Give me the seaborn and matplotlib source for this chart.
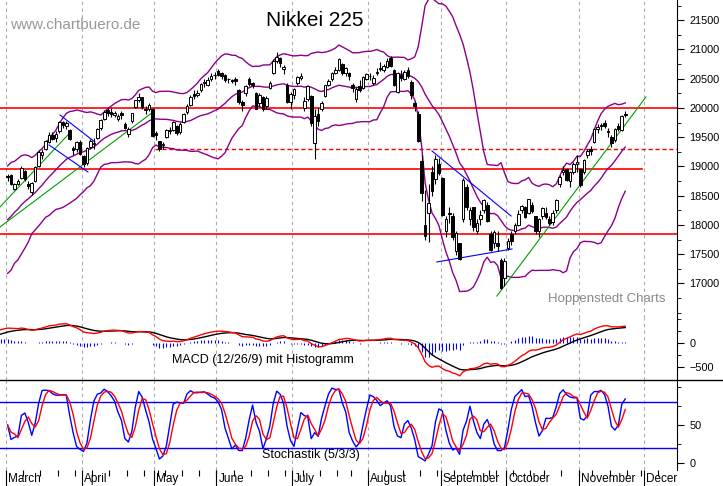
import numpy as np
import pandas as pd
import matplotlib
matplotlib.use("Agg")
import matplotlib.pyplot as plt
import seaborn as sns

# --- daily Nikkei 225 data ---
feb_dates = ["02-02", "02-03", "02-04", "02-05", "02-06", "02-09", "02-10", "02-12", "02-13", "02-16",
             "02-17", "02-18", "02-19", "02-20", "02-23", "02-24", "02-25", "02-26", "02-27"]
feb_closes = [17558, 17335, 17678, 17504, 17648, 17711, 17652, 17979, 17913, 18004,
              17987, 18199, 18264, 18332, 18466, 18603, 18585, 18785, 18797]

dates = ["03-02", "03-03", "03-04", "03-05", "03-06", "03-09", "03-10", "03-11", "03-12", "03-13", "03-16",
         "03-17", "03-18", "03-19", "03-20", "03-23", "03-24", "03-25", "03-26", "03-27", "03-30", "03-31",
         "04-01", "04-02", "04-03", "04-06", "04-07", "04-08", "04-09", "04-10", "04-13", "04-14", "04-15",
         "04-16", "04-17", "04-20", "04-21", "04-22", "04-23", "04-24", "04-27", "04-28", "04-30",
         "05-01", "05-07", "05-08", "05-11", "05-12", "05-13", "05-14", "05-15", "05-18", "05-19", "05-20",
         "05-21", "05-22", "05-25", "05-26", "05-27", "05-28", "05-29",
         "06-01", "06-02", "06-03", "06-04", "06-05", "06-08", "06-09", "06-10", "06-11", "06-12", "06-15",
         "06-16", "06-17", "06-18", "06-19", "06-22", "06-23", "06-24", "06-25", "06-26", "06-29", "06-30",
         "07-01", "07-02", "07-03", "07-06", "07-07", "07-08", "07-09", "07-10", "07-13", "07-14", "07-15",
         "07-16", "07-17", "07-21", "07-22", "07-23", "07-24", "07-27", "07-28", "07-29", "07-30", "07-31",
         "08-03", "08-04", "08-05", "08-06", "08-07", "08-10", "08-11", "08-12", "08-13", "08-14", "08-17",
         "08-18", "08-19", "08-20", "08-21", "08-24", "08-25", "08-26", "08-27", "08-28", "08-31",
         "09-01", "09-02", "09-03", "09-04", "09-07", "09-08", "09-09", "09-10", "09-11", "09-14", "09-15",
         "09-16", "09-17", "09-18", "09-24", "09-25", "09-28", "09-29", "09-30",
         "10-01", "10-02", "10-05", "10-06", "10-07", "10-08", "10-09", "10-13", "10-14", "10-15", "10-16",
         "10-19", "10-20", "10-21", "10-22", "10-23", "10-26", "10-27", "10-28", "10-29", "10-30",
         "11-02", "11-04", "11-05", "11-06", "11-09", "11-10", "11-11", "11-12", "11-13", "11-16", "11-17",
         "11-18", "11-19", "11-20"]

opens = [18830, 18860, 18610, 18700, 18800, 18920, 18700, 18560, 18760, 19010, 19190, 19300, 19420, 19540, 19480,
         19600, 19760, 19690, 19620, 19310, 19300, 19420,
         19180, 19060, 19340, 19380, 19480, 19660, 19820, 19960, 19930, 19880, 19810, 19920, 19720, 19560, 19780,
         20010, 20130, 20180, 19960, 19990, 19990,
         19570, 19430, 19360, 19500, 19600, 19620, 19700, 19590, 19760, 19930, 20050, 20240, 20220, 20300, 20420,
         20400, 20490, 20560,
         20640, 20590, 20560, 20500, 20470, 20500, 20300, 20100, 20250, 20500, 20420, 20250, 20080, 20180, 20040,
         20350, 20590, 20800, 20850, 20660, 20400, 20100,
         20220, 20420, 20520, 20000, 20160, 20200, 19400, 19900, 19980, 20200, 20400, 20500, 20600, 20650, 20750,
         20600, 20600, 20400, 20150, 20380, 20350, 20500,
         20540, 20420, 20600, 20690, 20650, 20700, 20850, 20650, 20280, 20560, 20500, 20650, 20450, 20080, 19900,
         19100, 18000, 18200, 18900, 18780, 19050,
         18800, 17900, 18200, 18150, 17550, 17700, 18100, 18650, 18100, 18300, 17900, 18100, 18250, 18350, 17850,
         17700, 17700, 17400, 17100,
         17600, 17850, 17900, 18000, 18250, 18300, 18200, 18350, 18150, 17900, 18150, 18200, 18100, 18050, 18250,
         18700, 18900, 18950, 18750, 18900, 19050,
         18950, 18900, 19200, 19300, 19420, 19640, 19700, 19750, 19600, 19500, 19450, 19700, 19620, 19900]
highs = [18870, 18880, 18720, 18790, 19000, 18940, 18760, 18740, 19010, 19280, 19300, 19460, 19590, 19590, 19600,
         19780, 19780, 19780, 19640, 19350, 19430, 19450,
         19200, 19330, 19470, 19490, 19660, 19810, 19960, 20000, 20000, 19950, 19900, 19950, 19760, 19680, 19920,
         20140, 20250, 20190, 20040, 20080, 20000,
         19600, 19440, 19420, 19640, 19680, 19780, 19710, 19760, 19910, 20060, 20220, 20300, 20300, 20420, 20490,
         20530, 20600, 20620,
         20660, 20620, 20580, 20520, 20500, 20530, 20320, 20130, 20400, 20530, 20450, 20280, 20250, 20200, 20200,
         20460, 20830, 20950, 20880, 20740, 20420, 20280,
         20350, 20540, 20600, 20180, 20400, 20220, 19990, 20000, 20120, 20400, 20500, 20610, 20700, 20850, 20770,
         20700, 20620, 20420, 20360, 20480, 20540, 20600,
         20600, 20560, 20680, 20780, 20760, 20850, 20890, 20660, 20620, 20650, 20650, 20700, 20470, 20120, 19950,
         19200, 18600, 18700, 19000, 19200, 19150,
         18820, 18150, 18300, 18200, 17900, 17700, 18800, 18700, 18300, 18300, 18100, 18250, 18450, 18400, 17900,
         17910, 17900, 17440, 17440,
         17780, 17900, 18030, 18250, 18350, 18330, 18450, 18400, 18150, 18120, 18310, 18300, 18150, 18250, 18450,
         18850, 19000, 18960, 18920, 19080, 19200,
         18980, 19120, 19300, 19350, 19650, 19720, 19740, 19800, 19650, 19530, 19660, 19750, 19880, 19950]
lows = [18760, 18680, 18590, 18680, 18780, 18760, 18620, 18520, 18740, 18990, 19120, 19280, 19400, 19450, 19420,
        19580, 19660, 19640, 19450, 19200, 19250, 19190,
        18990, 19030, 19300, 19300, 19470, 19630, 19790, 19870, 19850, 19840, 19770, 19810, 19640, 19500, 19740,
        20000, 20100, 19980, 19900, 19950, 19500,
        19460, 19260, 19300, 19480, 19550, 19600, 19530, 19560, 19740, 19900, 20040, 20150, 20180, 20280, 20360,
        20380, 20460, 20500,
        20540, 20490, 20450, 20420, 20420, 20400, 20060, 19950, 20200, 20380, 20350, 19980, 20040, 19950, 19980,
        20330, 20580, 20770, 20700, 20580, 20090, 19990,
        20150, 20400, 20480, 19940, 20120, 19700, 19120, 19700, 19950, 20180, 20380, 20460, 20580, 20640, 20560,
        20550, 20480, 20280, 20100, 20280, 20320, 20470,
        20470, 20400, 20560, 20640, 20620, 20680, 20700, 20370, 20250, 20460, 20470, 20520, 20150, 19950, 19420,
        18410, 17750, 17710, 18500, 18700, 18850,
        18150, 17800, 18030, 17750, 17480, 17400, 18050, 18250, 18000, 17900, 17850, 18000, 18200, 18050, 17550,
        17600, 17550, 16900, 16950,
        17570, 17650, 17850, 17980, 18200, 18120, 18180, 18200, 17850, 17800, 18100, 18100, 18000, 18000, 18200,
        18650, 18850, 18750, 18650, 18880, 18900,
        18650, 18880, 19150, 19200, 19400, 19580, 19620, 19650, 19500, 19330, 19420, 19600, 19600, 19840]
closes = [18815, 18704, 18704, 18751, 18971, 18790, 18665, 18723, 18991, 19254, 19246, 19437, 19544, 19476, 19560,
          19754, 19714, 19746, 19471, 19286, 19411, 19206,
          19034, 19312, 19435, 19397, 19640, 19790, 19937, 19907, 19905, 19908, 19869, 19885, 19652, 19634, 19909,
          20133, 20187, 20020, 19983, 20058, 19520,
          19531, 19291, 19379, 19620, 19624, 19764, 19570, 19732, 19890, 20026, 20196, 20202, 20264, 20413, 20437,
          20472, 20551, 20563,
          20569, 20543, 20473, 20488, 20460, 20457, 20096, 20046, 20382, 20407, 20387, 19990, 20219, 19990, 20174,
          20428, 20809, 20868, 20771, 20706, 20109, 20235,
          20329, 20522, 20539, 20112, 20376, 19737, 19855, 19780, 20089, 20385, 20463, 20600, 20650, 20841, 20593,
          20683, 20544, 20350, 20329, 20303, 20522, 20585,
          20548, 20520, 20614, 20664, 20724, 20808, 20720, 20392, 20595, 20519, 20620, 20554, 20222, 20033, 19435,
          18540, 17806, 18376, 18574, 19136, 18890,
          18165, 18095, 18183, 17792, 17860, 17427, 18770, 18299, 18264, 17965, 18026, 18171, 18432, 18070, 17571,
          17880, 17645, 16930, 17388,
          17722, 17725, 18005, 18186, 18322, 18141, 18438, 18234, 17891, 18097, 18291, 18131, 18029, 18207, 18435,
          18825, 18947, 18777, 18903, 19041, 19083,
          18684, 19116, 19265, 19265, 19642, 19671, 19697, 19697, 19596, 19393, 19649, 19649, 19859, 19879]

# trading days after the last candle, only for the time axis
future_dates = ["11-24", "11-25", "11-26", "11-27", "11-30", "12-01", "12-02", "12-03", "12-04", "12-07",
                "12-08", "12-09", "12-10", "12-11"]
month_names = ["March", "April", "May", "June", "July", "August", "September", "October", "November", "Decer"]

# horizontal support / resistance lines
levels_solid = [20000, 17840]
level_short = 18960
level_dashed = 19300

# hand drawn trend lines: (start index, start price, end index, end price)
green_lines = [(-2.2, 18308, 18.0, 19573), (-2.2, 17966, 41.8, 19915), (141.8, 16786, 185.0, 20188)]
blue_lines = [(15.2, 19880, 25.3, 19419), (12.0, 19368, 23.3, 18906),
              (123.0, 19265, 145.9, 18154), (124.4, 17368, 146.2, 17590)]

assert len(dates) == len(opens) == len(highs) == len(lows) == len(closes)

# --- indicators ---
n_feb = len(feb_closes)
all_close = pd.Series(feb_closes + closes, dtype=float)
idx_all = np.arange(len(all_close)) - n_feb
mid = all_close.rolling(20).mean()
sd = all_close.rolling(20).std(ddof=0)
boll = pd.DataFrame({"x": idx_all, "mid": mid, "up": mid + 2 * sd, "lo": mid - 2 * sd})

ema12 = all_close.ewm(span=12, adjust=False).mean()
ema26 = all_close.ewm(span=26, adjust=False).mean()
macd = ema12 - ema26
signal = macd.ewm(span=9, adjust=False).mean()
macd_df = pd.DataFrame({"x": idx_all, "macd": macd, "signal": signal, "histo": macd - signal})
macd_df = macd_df[macd_df["x"] >= -2]

px = pd.DataFrame({"o": opens, "h": highs, "l": lows, "c": closes})
px["x"] = np.arange(len(px))
hh = px["h"].rolling(5, min_periods=1).max()
ll = px["l"].rolling(5, min_periods=1).min()
fast_k = 100 * (px["c"] - ll) / (hh - ll)
slow_k = fast_k.rolling(3, min_periods=1).mean()
slow_d = slow_k.rolling(3, min_periods=1).mean()
stoch = pd.DataFrame({"x": px["x"], "k": slow_k, "d": slow_d})

# month gridlines at the first trading day of each month
axis_dates = dates + future_dates
months = [d[:2] for d in axis_dates]
month_pos = [i - 0.5 for i in range(len(months)) if i == 0 or months[i] != months[i - 1]]
week_pos = [i - 0.5 for i in range(1, len(axis_dates))
            if pd.Timestamp("2015-" + axis_dates[i]).dayofweek < pd.Timestamp("2015-" + axis_dates[i - 1]).dayofweek]

# --- figure ---
W, H = 723, 486
fig = plt.figure(figsize=(W / 100, H / 100), dpi=100)
right = 677


def add_ax(top, bottom):
    return fig.add_axes([0, 1 - bottom / H, right / W, (bottom - top) / H])


ax1 = add_ax(0, 318)
ax2 = add_ax(318, 380)
ax3 = add_ax(380, 470)
xlim = (-2.2, 194)

for ax in (ax1, ax2, ax3):
    ax.set_xlim(*xlim)
    for p in month_pos:
        ax.axvline(p, color="#aaaaaa", lw=0.8, ls=(0, (3, 3)), zorder=0)
    ax.yaxis.tick_right()
    ax.tick_params(axis="y", labelsize=7.8, length=5, direction="out", pad=4)
    ax.set_xticks([])
    for s in ("top", "left", "bottom"):
        ax.spines[s].set_visible(False)
    ax.spines["right"].set_linewidth(0.8)
    ax.set_facecolor("white")
    for lab in ax.get_yticklabels():
        lab.set_family("Liberation Sans")

# main price panel
ax1.set_ylim(16410, 21846)
ax1.set_yticks(range(17000, 21501, 500))
ax1.set_yticks(range(16500, 21801, 250), minor=True)
ax1.tick_params(axis="y", which="minor", length=3)
for lev in levels_solid:
    ax1.axhline(lev, color="red", lw=1.2, zorder=1)
ax1.plot([xlim[0], 183.8], [level_short, level_short], color="red", lw=1.2, zorder=1)
ax1.plot([42.7, xlim[1]], [level_dashed, level_dashed], color="red", lw=1, ls=(0, (3, 2)), zorder=1)

for col in ("up", "mid", "lo"):
    sns.lineplot(data=boll, x="x", y=col, ax=ax1, color="#8b008b", lw=1, zorder=2)

for x0, y0, x1, y1 in green_lines:
    ax1.plot([x0, x1], [y0, y1], color="#00a000", lw=0.8, zorder=3)
for x0, y0, x1, y1 in blue_lines:
    ax1.plot([x0, x1], [y0, y1], color="blue", lw=0.8, zorder=3)

up = px["c"] >= px["o"]
ax1.vlines(px["x"], px["l"], px["h"], color="black", lw=0.8, zorder=4)
ax1.bar(px["x"][up], (px["c"] - px["o"])[up].clip(lower=12), bottom=px["o"][up], width=0.75,
        color="white", edgecolor="black", linewidth=0.7, zorder=5)
ax1.bar(px["x"][~up], (px["o"] - px["c"])[~up].clip(lower=12), bottom=px["c"][~up], width=0.75,
        color="black", edgecolor="black", linewidth=0.7, zorder=5)
ax1.set_xlabel("")
ax1.set_ylabel("")

fig.text(10 / W, 1 - 25 / H, "www.chartbuero.de", fontsize=11, color="#999999",
         family="Liberation Sans", va="center")
fig.text(315 / W, 1 - 21 / H, "Nikkei 225", fontsize=15, ha="center", va="center", family="Liberation Sans")
fig.text(607 / W, 1 - 299 / H, "Hoppenstedt Charts", fontsize=9.5, ha="center", va="center",
         color="#888888", family="Liberation Sans")

# MACD panel
ax2.set_ylim(-770, 520)
ax2.set_yticks([0, -500])
ax2.set_yticks([500, 250, -250], minor=True)
ax2.tick_params(axis="y", which="minor", length=3)
ax2.vlines(macd_df["x"], 0, macd_df["histo"], color="blue", lw=0.8)
sns.lineplot(data=macd_df, x="x", y="signal", ax=ax2, color="black", lw=1)
sns.lineplot(data=macd_df, x="x", y="macd", ax=ax2, color="red", lw=1)
ax2.set_xlabel("")
ax2.set_ylabel("")
fig.text(263 / W, 1 - 360 / H, "MACD (12/26/9) mit Histogramm", fontsize=9, ha="center", va="center",
         family="Liberation Sans")

# stochastic panel
ax3.set_ylim(-9, 109)
ax3.set_yticks([0, 50])
ax3.set_yticks([25, 75, 100], minor=True)
ax3.tick_params(axis="y", which="minor", length=3)
ax3.axhline(80, color="blue", lw=1)
ax3.axhline(20, color="blue", lw=1)
sns.lineplot(data=stoch, x="x", y="k", ax=ax3, color="blue", lw=1)
sns.lineplot(data=stoch, x="x", y="d", ax=ax3, color="red", lw=1)
ax3.set_xlabel("")
ax3.set_ylabel("")
fig.text(311 / W, 1 - 455 / H, "Stochastik (5/3/3)", fontsize=9, ha="center", va="center",
         family="Liberation Sans")

# separator line between MACD and stochastic
fig.add_artist(plt.Line2D([0, 1], [1 - 380 / H, 1 - 380 / H], color="black", lw=1))

# bottom time axis
axb = add_ax(470, 486)
axb.set_xlim(*xlim)
axb.set_ylim(0, 1)
axb.axis("off")
axb.vlines(month_pos, 0, 1, color="black", lw=0.8)
axb.vlines(week_pos, 0.6, 1, color="black", lw=0.8)
for p, name in zip(month_pos, month_names):
    axb.text(p + 0.6, 0.45, name, fontsize=8.5, va="center", ha="left", family="Liberation Sans")

fig.savefig("out.png", dpi=100)
